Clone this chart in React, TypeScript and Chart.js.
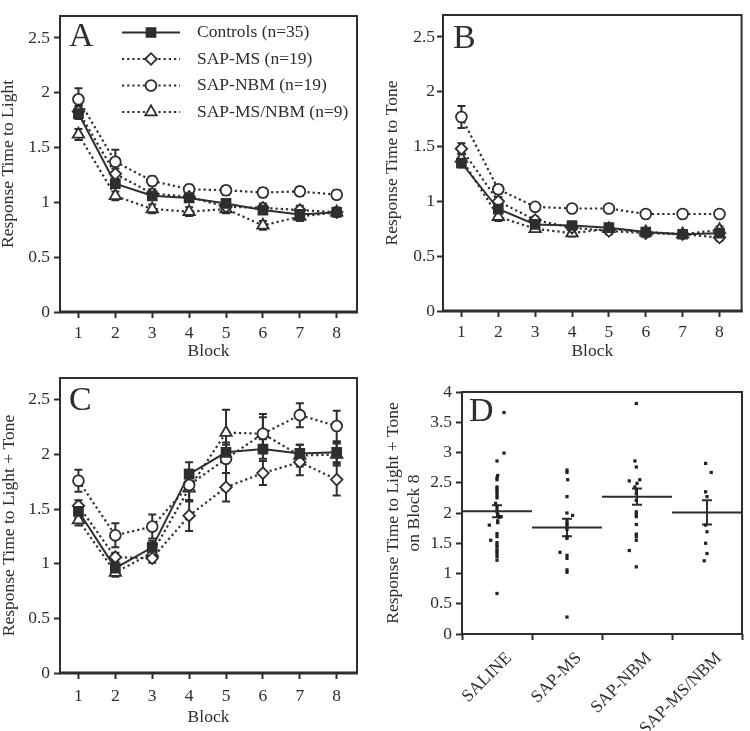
import React, { useEffect, useRef } from 'react';
import { Chart, registerables } from 'chart.js';

Chart.register(...registerables);

const INK = '#2e2e2e';
const FONT = "'Liberation Serif', 'Times New Roman', serif";
const FS = 17.5;

// ---------- shared categories / ticks ----------
const blocks = [1, 2, 3, 4, 5, 6, 7, 8];
const rtTicks = [0, 0.5, 1, 1.5, 2, 2.5];
const block8Ticks = [0, 0.5, 1, 1.5, 2, 2.5, 3, 3.5, 4];
const groupLabels = ['Controls (n=35)', 'SAP-MS (n=19)', 'SAP-NBM (n=19)', 'SAP-MS/NBM (n=9)'];
const groupCategories = ['SALINE', 'SAP-MS', 'SAP-NBM', 'SAP-MS/NBM'];

// ---------- Panel A: Response Time to Light ----------
const lightControls = [1.81, 1.17, 1.06, 1.04, 0.99, 0.93, 0.89, 0.91];
const lightControlsSem = [0.05, 0.04, 0.03, 0.03, 0.03, 0.03, 0.03, 0.03];
const lightMS = [1.83, 1.26, 1.08, 1.05, 0.96, 0.95, 0.93, 0.91];
const lightMSSem = [0.05, 0.05, 0.04, 0.04, 0.04, 0.04, 0.04, 0.04];
const lightNBM = [1.94, 1.37, 1.195, 1.12, 1.11, 1.09, 1.1, 1.07];
const lightNBMSem = [0.1, 0.11, 0.04, 0.04, 0.04, 0.04, 0.04, 0.04];
const lightMSNBM = [1.62, 1.06, 0.94, 0.915, 0.94, 0.79, 0.87, 0.91];
const lightMSNBMSem = [0.05, 0.04, 0.04, 0.04, 0.04, 0.04, 0.04, 0.04];

// ---------- Panel B: Response Time to Tone ----------
const toneControls = [1.35, 0.93, 0.79, 0.78, 0.76, 0.72, 0.7, 0.71];
const toneControlsSem = [0.04, 0.03, 0.03, 0.03, 0.03, 0.03, 0.03, 0.03];
const toneMS = [1.48, 1.0, 0.83, 0.76, 0.73, 0.71, 0.7, 0.67];
const toneMSSem = [0.05, 0.04, 0.03, 0.03, 0.03, 0.03, 0.03, 0.03];
const toneNBM = [1.77, 1.11, 0.95, 0.935, 0.935, 0.885, 0.885, 0.885];
const toneNBMSem = [0.1, 0.04, 0.03, 0.03, 0.03, 0.03, 0.03, 0.03];
const toneMSNBM = [1.39, 0.86, 0.75, 0.71, 0.75, 0.72, 0.7, 0.74];
const toneMSNBMSem = [0.05, 0.04, 0.03, 0.03, 0.03, 0.03, 0.03, 0.03];

// ---------- Panel C: Response Time to Light + Tone ----------
const ltControls = [1.48, 0.96, 1.15, 1.82, 2.02, 2.05, 2.01, 2.02];
const ltControlsSem = [0.06, 0.05, 0.06, 0.11, 0.09, 0.09, 0.08, 0.09];
const ltMS = [1.53, 1.06, 1.05, 1.44, 1.7, 1.83, 1.93, 1.77];
const ltMSSem = [0.05, 0.04, 0.04, 0.14, 0.13, 0.11, 0.12, 0.145];
const ltNBM = [1.76, 1.26, 1.34, 1.72, 1.96, 2.19, 2.36, 2.26];
const ltNBMSem = [0.1, 0.11, 0.11, 0.14, 0.13, 0.18, 0.11, 0.14];
const ltMSNBM = [1.4, 0.92, 1.1, 1.69, 2.2, 2.19, 1.99, 2.0];
const ltMSNBMSem = [0.05, 0.04, 0.05, 0.12, 0.21, 0.15, 0.1, 0.1];

// ---------- Panel D: individual values on Block 8 ----------
const salineVals = [3.66, 2.99, 2.86, 2.62, 2.58, 2.55, 2.43, 2.4, 2.37, 2.33, 2.29, 2.25, 2.16, 2.1, 2.05, 2.02, 1.98, 1.95, 1.93, 1.94, 1.87, 1.84, 1.8, 1.66, 1.61, 1.55, 1.51, 1.47, 1.44, 1.39, 1.36, 1.32, 1.28, 1.22, 0.67];
const salineJitter = [0.1, 0.1, 0, 0.01, 0, 0, 0, 0, 0, 0, 0, 0, -0.02, 0, 0, 0, 0.01, 0.02, 0.03, 0.06, 0.01, 0.01, -0.11, 0, 0, -0.09, 0, 0, 0, 0, 0, 0, 0, 0, 0];
const sapMsVals = [2.71, 2.67, 2.55, 2.27, 2.0, 1.96, 1.87, 1.83, 1.8, 1.76, 1.73, 1.61, 1.58, 1.35, 1.3, 1.25, 1.06, 1.02, 0.28];
const sapMsJitter = [0, 0, 0.01, 0, 0, 0.08, 0, 0, 0, 0, 0, 0, 0, -0.1, 0, 0, 0, 0, 0];
const sapNbmVals = [3.81, 2.86, 2.76, 2.55, 2.53, 2.49, 2.43, 2.38, 2.32, 2.21, 2.02, 1.98, 1.94, 1.81, 1.65, 1.61, 1.55, 1.38, 1.11];
const sapNbmJitter = [-0.01, -0.03, -0.01, 0.04, -0.11, 0, -0.03, -0.01, -0.01, -0.01, -0.01, -0.01, -0.01, -0.01, -0.01, -0.01, -0.01, -0.11, -0.01];
const sapMsNbmVals = [2.82, 2.67, 2.35, 2.27, 1.8, 1.69, 1.5, 1.33, 1.21];
const sapMsNbmJitter = [-0.02, 0.06, -0.02, 0, -0.02, 0, -0.02, 0, -0.04];
const block8Means = [2.03, 1.76, 2.27, 2.01];
const block8Sems = [0.1, 0.145, 0.135, 0.2];

// ---------- styles ----------
const seriesStyles = [
  { pointStyle: 'rect', radius: 6.5, fill: INK, dash: [] as number[], lineWidth: 2, markerBorder: 1.5 },
  { pointStyle: 'rectRot', radius: 5.8, fill: '#ffffff', dash: [2.2, 3], lineWidth: 2.2, markerBorder: 1.8 },
  { pointStyle: 'circle', radius: 5.4, fill: '#ffffff', dash: [2.2, 3], lineWidth: 2.2, markerBorder: 1.8 },
  { pointStyle: 'triangle', radius: 6.6, fill: '#ffffff', dash: [2.2, 3], lineWidth: 2.2, markerBorder: 1.8 },
];

function drawMarker(ctx: CanvasRenderingContext2D, style: string, x: number, y: number, r: number, fill: string, lw: number) {
  ctx.beginPath();
  if (style === 'rect') {
    const s = r * Math.SQRT1_2;
    ctx.rect(x - s, y - s, 2 * s, 2 * s);
  } else if (style === 'rectRot') {
    ctx.moveTo(x - r, y);
    ctx.lineTo(x, y - r);
    ctx.lineTo(x + r, y);
    ctx.lineTo(x, y + r);
    ctx.closePath();
  } else if (style === 'circle') {
    ctx.arc(x, y, r, 0, Math.PI * 2);
  } else {
    const a = (2 * Math.PI) / 3;
    ctx.moveTo(x, y - r);
    ctx.lineTo(x + Math.sin(a) * r, y - Math.cos(a) * r);
    ctx.lineTo(x + Math.sin(2 * a) * r, y - Math.cos(2 * a) * r);
    ctx.closePath();
  }
  ctx.fillStyle = fill;
  ctx.fill();
  ctx.lineWidth = lw;
  ctx.strokeStyle = INK;
  ctx.setLineDash([]);
  ctx.stroke();
}

// ---------- plugins ----------
const boxPlugin = {
  id: 'panelBox',
  afterDatasetsDraw(chart: any, _args: any, opts: any) {
    const { ctx, chartArea } = chart;
    const { left, top, right, bottom } = chartArea;
    ctx.save();
    ctx.strokeStyle = INK;
    ctx.setLineDash([]);
    ctx.lineWidth = 2;
    ctx.strokeRect(left, top, right - left, bottom - top);
    ctx.lineWidth = (opts && opts.bottomWidth) || 2;
    ctx.beginPath();
    ctx.moveTo(left - 1, bottom);
    ctx.lineTo(right + 1, bottom);
    ctx.stroke();
    ctx.restore();
  },
};

const errorBarPlugin = {
  id: 'errorBars',
  beforeDatasetsDraw(chart: any, _args: any, opts: any) {
    const { ctx } = chart;
    const cap = (opts && opts.cap) || 8;
    ctx.save();
    ctx.strokeStyle = INK;
    ctx.lineWidth = 2;
    ctx.setLineDash([]);
    chart.data.datasets.forEach((ds: any) => {
      if (!ds.sems) return;
      const xs = chart.scales[ds.xAxisID || 'x'];
      const ys = chart.scales.y;
      ds.data.forEach((pt: any, i: number) => {
        const e = ds.sems[i];
        if (!e) return;
        const px = xs.getPixelForValue(pt.x);
        const t = ys.getPixelForValue(pt.y + e);
        const b = ys.getPixelForValue(pt.y - e);
        ctx.beginPath();
        ctx.moveTo(px, t);
        ctx.lineTo(px, b);
        ctx.moveTo(px - cap / 2, t);
        ctx.lineTo(px + cap / 2, t);
        ctx.moveTo(px - cap / 2, b);
        ctx.lineTo(px + cap / 2, b);
        ctx.stroke();
      });
    });
    ctx.restore();
  },
};

const letterPlugin = {
  id: 'panelLetter',
  afterDraw(chart: any, _args: any, opts: any) {
    if (!opts || !opts.text) return;
    const { ctx } = chart;
    ctx.save();
    ctx.fillStyle = INK;
    ctx.font = `34px ${FONT}`;
    ctx.textAlign = 'left';
    ctx.textBaseline = 'alphabetic';
    ctx.fillText(opts.text, opts.x, opts.y);
    ctx.restore();
  },
};

const innerLegendPlugin = {
  id: 'innerLegend',
  afterDraw(chart: any, _args: any, opts: any) {
    if (!opts || !opts.show) return;
    const { ctx } = chart;
    chart.data.datasets.forEach((ds: any, i: number) => {
      const st = seriesStyles[i];
      const y = opts.y0 + i * opts.dy;
      ctx.save();
      ctx.strokeStyle = INK;
      ctx.lineWidth = st.lineWidth;
      ctx.setLineDash(st.dash);
      ctx.beginPath();
      ctx.moveTo(opts.x0, y);
      ctx.lineTo(opts.x1, y);
      ctx.stroke();
      drawMarker(ctx, st.pointStyle, opts.mx, y, st.radius, st.fill, st.markerBorder);
      ctx.fillStyle = INK;
      ctx.font = `${FS}px ${FONT}`;
      ctx.textAlign = 'left';
      ctx.textBaseline = 'middle';
      ctx.fillText(ds.label, opts.tx, y);
      ctx.restore();
    });
  },
};

// ---------- config builders ----------
function tickFont() {
  return { family: FONT, size: FS };
}

function makeLineConfig(p: any) {
  const datasets = p.series.map((vals: number[], k: number) => {
    const st = seriesStyles[k];
    return {
      label: groupLabels[k],
      data: blocks.map((b, i) => ({ x: b, y: vals[i] })),
      sems: p.sems[k],
      borderColor: INK,
      borderWidth: st.lineWidth,
      borderDash: st.dash,
      pointStyle: st.pointStyle,
      pointRadius: st.radius,
      pointBackgroundColor: st.fill,
      pointBorderColor: INK,
      pointBorderWidth: st.markerBorder,
      tension: 0,
      fill: false,
    };
  });
  return {
    type: 'line',
    data: { datasets },
    options: {
      responsive: false,
      animation: false,
      layout: { padding: { left: 0, top: p.padTop, right: p.padRight, bottom: 0 } },
      plugins: {
        legend: { display: false },
        tooltip: { enabled: false },
        errorBars: { cap: 8 },
        panelBox: { bottomWidth: 3 },
        panelLetter: { text: p.letter, x: p.letterX, y: p.letterY },
        innerLegend: { show: p.legend, x0: 122, x1: 180, mx: 151, tx: 197, y0: 32.5, dy: 26.5 },
      },
      scales: {
        x: {
          type: 'linear',
          min: 0.5,
          max: p.xMax,
          afterBuildTicks: (s: any) => {
            s.ticks = blocks.map((v) => ({ value: v }));
          },
          afterFit: (s: any) => {
            s.height = p.xH;
          },
          ticks: { font: tickFont(), color: INK, padding: p.xTickPad, maxRotation: 0, autoSkip: false, callback: (v: any) => String(v) },
          grid: { display: true, drawOnChartArea: false, drawTicks: true, tickLength: 6, tickWidth: 2, tickColor: INK },
          border: { display: false },
          title: { display: true, text: 'Block', color: INK, font: { family: FONT, size: FS, lineHeight: 1 }, padding: { top: 0, bottom: p.xTitlePad } },
        },
        y: {
          type: 'linear',
          min: 0,
          max: 2.7,
          afterBuildTicks: (s: any) => {
            s.ticks = rtTicks.map((v) => ({ value: v }));
          },
          afterFit: (s: any) => {
            s.width = p.yW;
          },
          ticks: { font: tickFont(), color: INK, padding: p.yTickPad, autoSkip: false, callback: (v: any) => String(v) },
          grid: { display: true, drawOnChartArea: false, drawTicks: true, tickLength: 6, tickWidth: 2, tickColor: INK },
          border: { display: false },
          title: { display: true, text: p.yTitle, color: INK, font: { family: FONT, size: FS, lineHeight: 1 }, padding: { top: p.yTitlePad, bottom: 0 } },
        },
      },
    },
    plugins: [errorBarPlugin, boxPlugin, letterPlugin, innerLegendPlugin],
  };
}

function makeBlock8Config() {
  const groups = [salineVals, sapMsVals, sapNbmVals, sapMsNbmVals];
  const jitters = [salineJitter, sapMsJitter, sapNbmJitter, sapMsNbmJitter];
  const datasets: any[] = [];
  groupCategories.forEach((_, g) => {
    datasets.push({
      data: [
        { x: g - 0.5, y: block8Means[g] },
        { x: g + 0.5, y: block8Means[g] },
      ],
      xAxisID: 'xj',
      borderColor: INK,
      borderWidth: 2,
      pointRadius: 0,
      tension: 0,
      fill: false,
    });
  });
  datasets.push({
    data: block8Means.map((m, g) => ({ x: g, y: m })),
    sems: block8Sems,
    xAxisID: 'xj',
    showLine: false,
    pointRadius: 0,
  });
  groups.forEach((vals, g) => {
    datasets.push({
      data: vals.map((v, i) => ({ x: g + jitters[g][i], y: v })),
      xAxisID: 'xj',
      showLine: false,
      pointStyle: 'rect',
      pointRadius: 2.3,
      pointBackgroundColor: '#222222',
      pointBorderColor: '#222222',
      pointBorderWidth: 0,
    });
  });
  return {
    type: 'line',
    data: { labels: groupCategories, datasets },
    options: {
      responsive: false,
      animation: false,
      layout: { padding: { left: 0, top: 32, right: 8, bottom: 0 } },
      plugins: {
        legend: { display: false },
        tooltip: { enabled: false },
        errorBars: { cap: 10 },
        panelBox: { bottomWidth: 2 },
        panelLetter: { text: 'D', x: 94, y: 61 },
        innerLegend: { show: false },
      },
      scales: {
        x: {
          type: 'category',
          offset: true,
          afterFit: (s: any) => {
            s.height = 97;
          },
          ticks: { font: tickFont(), color: INK, padding: 8, minRotation: 45, maxRotation: 45, labelOffset: 12, autoSkip: false },
          grid: { display: true, offset: true, drawOnChartArea: false, drawTicks: true, tickLength: 6, tickWidth: 2, tickColor: INK },
          border: { display: false },
        },
        xj: {
          type: 'linear',
          axis: 'x',
          position: 'bottom',
          min: -0.5,
          max: 3.5,
          display: false,
        },
        y: {
          type: 'linear',
          min: 0,
          max: 4,
          afterBuildTicks: (s: any) => {
            s.ticks = block8Ticks.map((v) => ({ value: v }));
          },
          afterFit: (s: any) => {
            s.width = 87;
          },
          ticks: { font: tickFont(), color: INK, padding: 4, autoSkip: false, callback: (v: any) => String(v) },
          grid: { display: true, drawOnChartArea: false, drawTicks: true, tickLength: 6, tickWidth: 2, tickColor: INK },
          border: { display: false },
          title: {
            display: true,
            text: ['Response Time to Light + Tone', 'on Block 8'],
            color: INK,
            font: { family: FONT, size: FS, lineHeight: 1.2 },
            padding: { top: 8, bottom: 0 },
          },
        },
      },
    },
    plugins: [errorBarPlugin, boxPlugin, letterPlugin],
  };
}

function ChartCanvas(props: { make: () => any; left: number; top: number; width: number; height: number }) {
  const ref = useRef<HTMLCanvasElement>(null);
  useEffect(() => {
    const chart = new Chart(ref.current as HTMLCanvasElement, props.make());
    return () => chart.destroy();
  }, []);
  return (
    <canvas
      ref={ref}
      width={props.width}
      height={props.height}
      style={{ position: 'absolute', left: props.left, top: props.top, width: props.width, height: props.height }}
    />
  );
}

export default function App() {
  return (
    <div style={{ position: 'absolute', left: 0, top: 0, width: 750, height: 731, background: '#ffffff' }}>
      <ChartCanvas
        left={0}
        top={0}
        width={375}
        height={360}
        make={() =>
          makeLineConfig({
            series: [lightControls, lightMS, lightNBM, lightMSNBM],
            sems: [lightControlsSem, lightMSSem, lightNBMSem, lightMSNBMSem],
            yTitle: 'Response Time to Light',
            letter: 'A',
            letterX: 69,
            letterY: 46,
            legend: true,
            yW: 60,
            xH: 48,
            padTop: 16,
            padRight: 18,
            xMax: 8.55,
            yTickPad: 4,
            xTickPad: 5,
            yTitlePad: 0,
            xTitlePad: 0,
          })
        }
      />
      <ChartCanvas
        left={375}
        top={0}
        width={375}
        height={360}
        make={() =>
          makeLineConfig({
            series: [toneControls, toneMS, toneNBM, toneMSNBM],
            sems: [toneControlsSem, toneMSSem, toneNBMSem, toneMSNBMSem],
            yTitle: 'Response Time to Tone',
            letter: 'B',
            letterX: 78,
            letterY: 48,
            legend: false,
            yW: 68,
            xH: 49,
            padTop: 15,
            padRight: 7,
            xMax: 8.6,
            yTickPad: 2,
            xTickPad: 5,
            yTitlePad: 9,
            xTitlePad: 0,
          })
        }
      />
      <ChartCanvas
        left={0}
        top={360}
        width={375}
        height={371}
        make={() =>
          makeLineConfig({
            series: [ltControls, ltMS, ltNBM, ltMSNBM],
            sems: [ltControlsSem, ltMSSem, ltNBMSem, ltMSNBMSem],
            yTitle: 'Response Time to Light + Tone',
            letter: 'C',
            letterX: 69,
            letterY: 50,
            legend: false,
            yW: 60,
            xH: 58,
            padTop: 18,
            padRight: 18,
            xMax: 8.55,
            yTickPad: 4,
            xTickPad: 6.5,
            yTitlePad: 0.5,
            xTitlePad: 5,
          })
        }
      />
      <ChartCanvas left={375} top={360} width={375} height={371} make={makeBlock8Config} />
    </div>
  );
}
